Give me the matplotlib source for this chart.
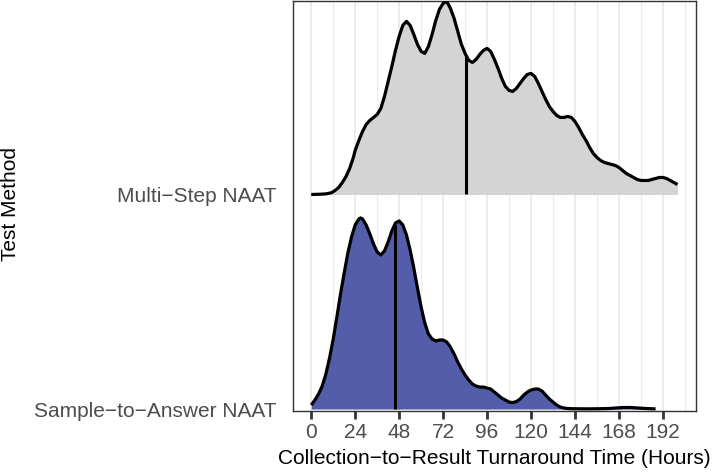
import numpy as np
import matplotlib

matplotlib.use("Agg")
import matplotlib.pyplot as plt

plt.rcParams["font.family"] = ["Liberation Sans", "DejaVu Sans"]

# ridge categories, bottom to top
methods = ["Sample\u2212to\u2212Answer NAAT", "Multi\u2212Step NAAT"]
fills = ["#4A54A6", "#D2D2D2"]

# density estimates (relative units)
sta_hours = [0, 2, 4, 6, 8, 10, 12, 14, 16, 18, 20, 22, 24, 26, 27, 28, 30, 32, 34, 36,
             38, 40, 42, 44, 46, 48, 50, 52, 54, 56, 58, 60, 62, 64, 66, 68, 70, 72, 74,
             76, 78, 80, 82, 84, 86, 88, 90, 92, 94, 96, 98, 100, 102, 104, 106, 108, 110,
             112, 114, 116, 118, 120, 122, 124, 126, 128, 130, 132, 134, 136, 138, 140,
             144, 150, 156, 162, 166, 170, 174, 178, 182, 186, 188]
sta_density = [4, 9, 15, 23, 35, 51, 70, 92, 115, 136, 156, 172, 184, 190, 191, 190, 184,
               175, 165, 157, 154, 158, 167, 178, 186, 188, 184, 174, 159, 141, 121, 102,
               86, 75, 70, 68, 69, 69, 67, 62, 55, 47, 40, 34, 29, 25, 23, 22, 22, 21, 20,
               17, 14, 11, 9, 7, 6.5, 7.5, 10, 14, 17, 19, 20, 20, 18, 14, 10, 7, 4, 2, 1,
               0.5, 0.3, 0.2, 0.3, 0.5, 1, 1.5, 1.6, 1.1, 0.6, 0.3, 0.2]

msn_hours = [0, 4, 8, 11, 13, 15, 17, 19, 21, 23, 24, 26, 28, 30, 32, 34, 36, 38, 40, 42,
             44, 46, 48, 50, 52, 54, 56, 58, 60, 62, 64, 66, 68, 70, 72, 74, 76, 78, 80, 82,
             84, 86, 88, 90, 92, 94, 96, 98, 100, 102, 104, 106, 108, 110, 112, 114, 116,
             118, 120, 122, 124, 126, 128, 130, 132, 134, 136, 138, 140, 142, 144, 146,
             148, 150, 152, 154, 156, 158, 160, 162, 164, 166, 168, 170, 172, 174, 176,
             178, 180, 182, 184, 186, 188, 190, 192, 194, 196, 198, 200]
msn_density = [0, 0.2, 0.6, 1.7, 4, 7, 12, 18, 26, 37, 44, 54, 63, 70, 74, 77, 80, 86, 98,
               113, 128, 144, 158, 169, 173, 169, 160, 150, 143, 141, 148, 160, 174, 185,
               191, 193, 186, 176, 163, 150, 141, 134, 132, 135, 140, 144, 146, 143, 135,
               126, 116, 108, 104, 103, 106, 111, 116, 120, 121, 118, 111, 103, 95, 88, 83,
               79, 77, 77, 78, 77, 73, 67, 60, 54, 47, 41, 37, 34, 32, 31, 30, 29, 27, 24,
               21, 19, 17, 15, 14, 14, 14, 15, 16, 17, 17, 16, 14, 12, 10]

medians = [45.5, 84.4]
x_ticks = [0, 24, 48, 72, 96, 120, 144, 168, 192]

curves = [(np.array(sta_hours, float), np.array(sta_density, float)),
          (np.array(msn_hours, float), np.array(msn_density, float))]
peak = max(d.max() for _, d in curves)
ridge_scale = 0.9

fig = plt.figure(figsize=(7.16, 4.76), dpi=100)
ax = fig.add_axes([0.4096, 0.1366, 0.5628, 0.8614])

for g in range(0, 205, 12):
    ax.axvline(g, color="#EBEBEB", lw=1.3 if g % 24 == 0 else 0.8, zorder=0)

for i in [1, 0]:
    x, d = curves[i]
    h = d / peak * ridge_scale
    ax.fill_between(x, i, i + h, color=fills[i], alpha=0.95, lw=0, zorder=2 + (1 - i))
    ax.plot(x, i + h, color="black", lw=2.3, solid_capstyle="butt",
            solid_joinstyle="round", zorder=4 + (1 - i))
    mh = np.interp(medians[i], x, h)
    ax.plot([medians[i], medians[i]], [i, i + mh], color="black", lw=2.2,
            solid_capstyle="butt", zorder=4 + (1 - i))

ax.set_xlim(-9.8, 210.2)
ax.set_ylim(-0.009, 1.902)
ax.set_xticks(x_ticks)
ax.set_xticklabels([str(t) for t in x_ticks])
ax.set_yticks([0, 1])
ax.set_yticklabels(methods)
ax.tick_params(axis="x", length=6, width=2.0, color="#333333", pad=3,
               labelsize=15, labelcolor="#4D4D4D")
ax.tick_params(axis="y", length=0, pad=12, labelsize=15, labelcolor="#4D4D4D")
for s in ax.spines.values():
    s.set_color("#333333")
    s.set_linewidth(1.0)

ax.set_xlabel("Collection\u2212to\u2212Result Turnaround Time (Hours)", fontsize=15,
              color="black", labelpad=5)
fig.text(0.014, 0.571, "Test Method", rotation=90, fontsize=15, ha="center",
         va="center")

fig.savefig("out.png", dpi=100)
